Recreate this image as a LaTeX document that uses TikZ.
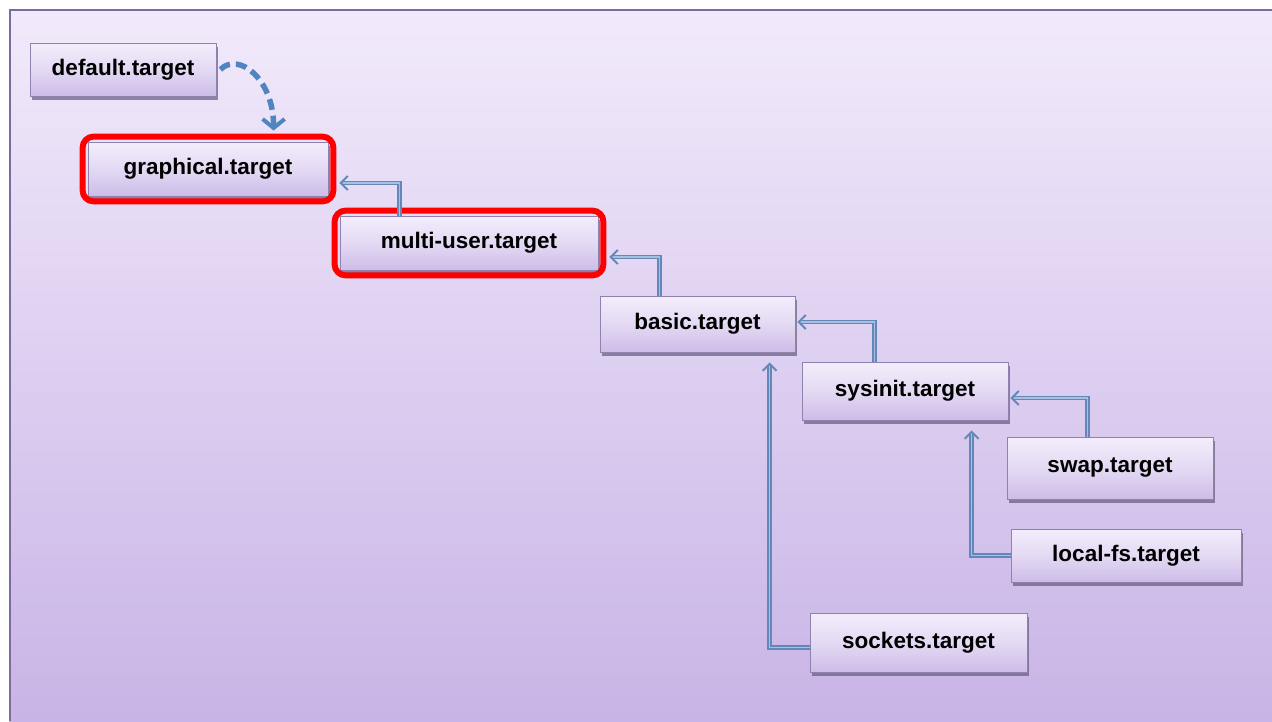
\documentclass[tikz,border=0pt]{standalone}
\usepackage{fontspec}
\setmainfont{Liberation Sans}
\usetikzlibrary{arrows.meta,shadows,fit,calc}
\definecolor{panelTop}{HTML}{F2EAFB}
\definecolor{panelBot}{HTML}{C8B4E6}
\definecolor{panelEdge}{HTML}{7A6C9C}
\definecolor{boxTop}{HTML}{F3EDFB}
\definecolor{boxBot}{HTML}{CDBCE8}
\definecolor{boxEdge}{HTML}{8F82AE}
\definecolor{linkBlue}{HTML}{6288BA}
\definecolor{linkLight}{HTML}{A9BFDD}
\definecolor{dashBlue}{HTML}{4F86C2}
\tikzset{
  target/.style={draw=boxEdge, line width=0.8pt, top color=boxTop, bottom color=boxBot,
    middle color=boxTop!60!boxBot,
    drop shadow={shadow xshift=1.5pt, shadow yshift=-3.5pt, fill=boxEdge!70!black, opacity=0.7},
    font=\fontsize{22.5}{26}\selectfont\bfseries, text=black, inner sep=0pt},
  highlight/.style={draw=red, line width=6pt, rounded corners=11pt, inner sep=5pt},
  link/.style={draw=linkBlue, line width=1.7pt, double=linkLight, double distance=1.5pt,
    -{Straight Barb[length=7pt,width=14pt,line width=2pt]}},
  dashlink/.style={draw=dashBlue, line width=5.5pt, dash pattern=on 11pt off 6pt,
    -{Straight Barb[length=9pt,width=22pt,line width=4pt]}}
}
\begin{document}
\begin{tikzpicture}[x=1pt,y=-1pt]
  \useasboundingbox (0,0) rectangle (1272,721);
  % background panel
  \fill[white] (0,0) rectangle (1272,721);
  \shade[top color=panelTop, bottom color=panelBot] (9,9) rectangle (1272,721);
  \draw[panelEdge, line width=2pt] (9.5,721) -- (9.5,9.5) -- (1272,9.5);

  % targets
  \node[target, minimum width=186pt, minimum height=53pt] (default) at (123,69.5) {default.target};
  \node[target, minimum width=240pt, minimum height=54pt] (graph) at (208,169) {graphical.target};
  \node[target, minimum width=258pt, minimum height=54pt] (multi) at (469,243) {multi-user.target};
  \node[target, minimum width=195pt, minimum height=56pt] (basic) at (697.5,324) {basic.target};
  \node[target, minimum width=206pt, minimum height=58pt] (sysinit) at (905,391) {sysinit.target};
  \node[target, minimum width=206pt, minimum height=62pt] (swap) at (1110,468) {swap.target};
  \node[target, minimum width=230pt, minimum height=53pt] (localfs) at (1126,555.5) {local-fs.target};
  \node[target, minimum width=217pt, minimum height=59pt] (sockets) at (918.5,642.5) {sockets.target};

  % highlighted targets
  \node[highlight, fit=(graph)] (graphR) {};
  \node[highlight, fit=(multi)] (multiR) {};

  % default.target is a link to graphical.target
  \coordinate (dtip) at ([xshift=194pt,yshift=3pt]graphR.north west);
  \draw[dashlink] ([xshift=4pt]default.east) .. controls +(18,-18) and +(0,-52) .. (dtip);

  % dependencies
  \draw[link] ([xshift=60pt]multi.north west) |- ([xshift=3pt,yshift=-14pt]graphR.east);
  \draw[link] ([xshift=60pt]basic.north west) |- ([xshift=3pt,yshift=-14pt]multiR.east);
  \draw[link] ([xshift=73pt]sysinit.north west) |- ([xshift=2pt,yshift=2pt]basic.east);
  \draw[link] ([xshift=81pt]swap.north west) |- ([xshift=2pt,yshift=-7pt]sysinit.east);
  \draw[link] (localfs.west) -| ([xshift=170pt,yshift=-10pt]sysinit.south west);
  \draw[link] ([yshift=-5pt]sockets.west) -| ([xshift=170pt,yshift=-10pt]basic.south west);
\end{tikzpicture}
\end{document}
